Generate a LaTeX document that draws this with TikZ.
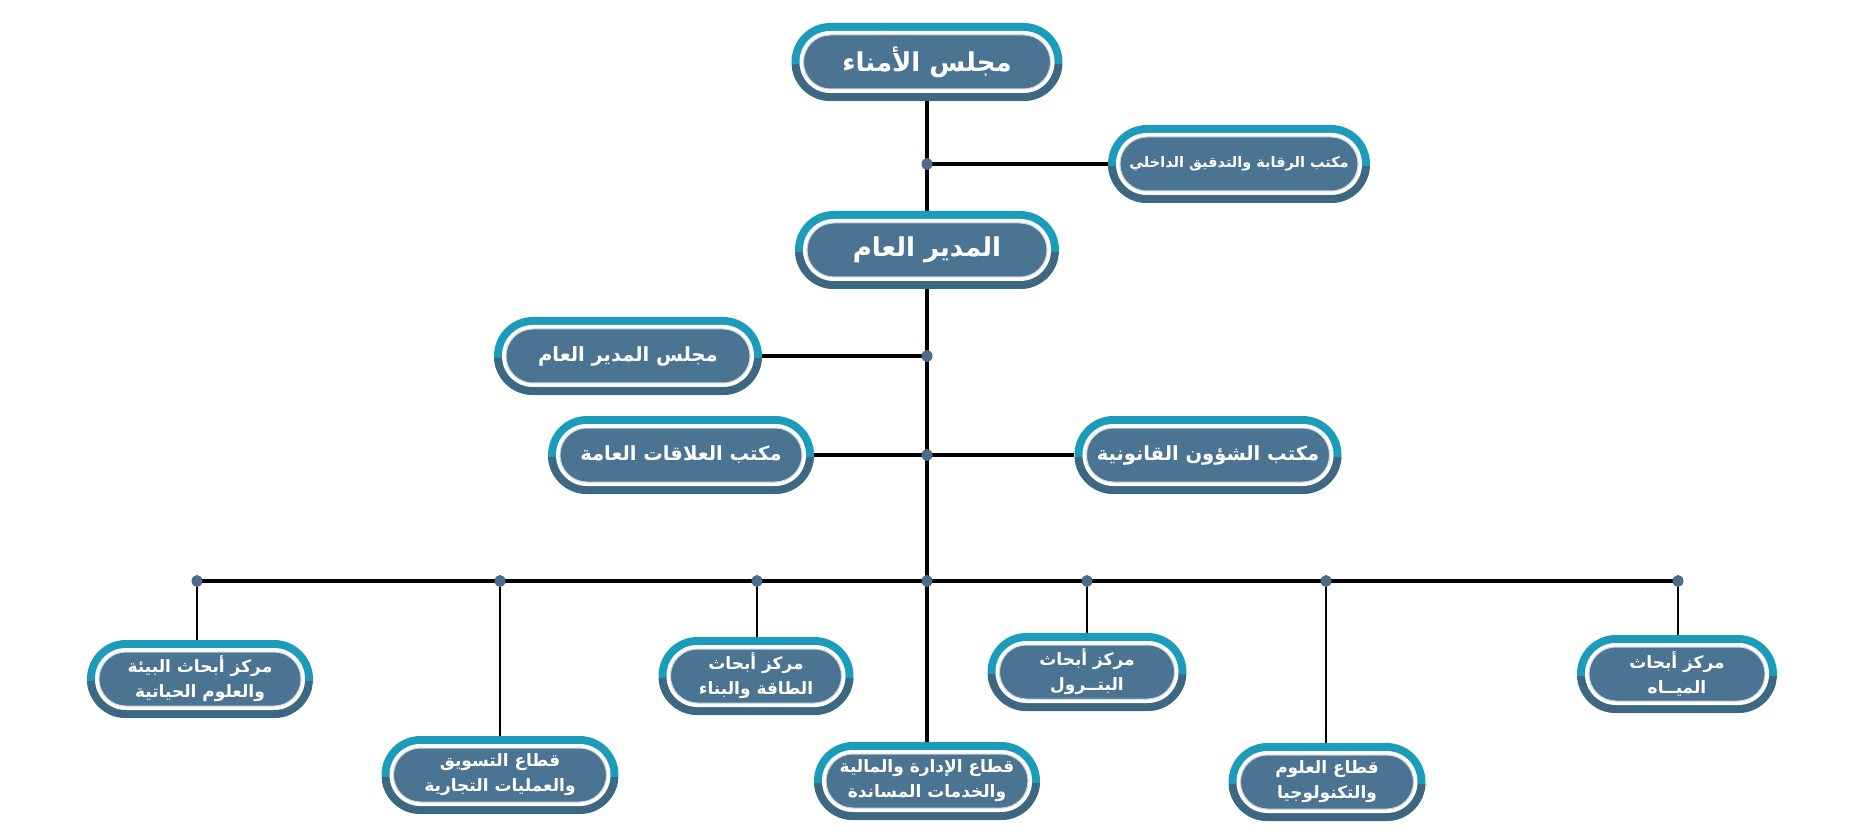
\documentclass[tikz,border=0pt]{standalone}
\usepackage{fontspec}
\usetikzlibrary{shapes.misc}
\TeXXeTstate=1
\newfontfamily\arfont[Script=Arabic]{DejaVu Sans}
\definecolor{tealb}{HTML}{1B9CBA}
\definecolor{darkb}{HTML}{3E6782}
\definecolor{innerb}{HTML}{4A7491}
\definecolor{shadb}{HTML}{C9D4DC}
\definecolor{dotc}{HTML}{4B6D88}
\tikzset{
  orgbox/.style={rounded rectangle, minimum height=78pt, inner sep=0pt, fill=tealb,
    text=white, align=center,
    path picture={
      \fill[darkb] ([yshift=-2pt]path picture bounding box.west) rectangle (path picture bounding box.south east);
      \fill[white, rounded corners=30.9pt] ([shift={(8pt,8pt)}]path picture bounding box.south west) rectangle ([shift={(-8pt,-8pt)}]path picture bounding box.north east);
      \filldraw[fill=innerb, draw=shadb, line width=1pt, rounded corners=26.9pt] ([shift={(12pt,12pt)}]path picture bounding box.south west) rectangle ([shift={(-12pt,-12pt)}]path picture bounding box.north east);
    }},
  bigtxt/.style={font=\arfont\bfseries\fontsize{26}{30}\selectfont},
  midtxt/.style={font=\arfont\bfseries\fontsize{19.5}{26}\selectfont},
  smalltxt/.style={font=\arfont\bfseries\fontsize{14.5}{20}\selectfont},
  lowtxt/.style={font=\arfont\bfseries\fontsize{17}{25}\selectfont},
  link/.style={draw=black, line width=3.4pt},
  droplink/.style={draw=black, line width=2.8pt},
  dotmark/.style={fill=dotc},
}
\begin{document}
\begin{tikzpicture}[x=1pt, y=-1pt]
\useasboundingbox[fill=white] (0,0) rectangle (1875,834);

\coordinate (d1) at (927,164);
\coordinate (d2) at (927,356);
\coordinate (d3) at (927,455);
\coordinate (b1) at (197,581);
\coordinate (b2) at (500,581);
\coordinate (b3) at (757,581);
\coordinate (b4) at (927,581);
\coordinate (b5) at (1087,581);
\coordinate (b6) at (1326,581);
\coordinate (b7) at (1678,581);

\node[orgbox, bigtxt, minimum width=271pt] (n1) at (927,62) {\beginR مجلس الأمناء\endR};
\node[orgbox, smalltxt, minimum width=262pt] (n2) at (1239,164) {\beginR مكتب الرقابة والتدقيق الداخلي\endR};
\node[orgbox, bigtxt, minimum width=264pt] (n3) at (927,250) {\beginR المدير العام\endR};
\node[orgbox, midtxt, minimum width=268pt] (n4) at (628,356) {\beginR مجلس المدير العام\endR};
\node[orgbox, midtxt, minimum width=266pt] (n5) at (681,455) {\beginR مكتب العلاقات العامة\endR};
\node[orgbox, midtxt, minimum width=267pt] (n6) at (1208,455) {\beginR مكتب الشؤون القانونية\endR};
\node[orgbox, lowtxt, minimum width=226pt] (n7) at (200,679) {\beginR مركز أبحاث البيئة\endR\\\beginR والعلوم الحياتية\endR};
\node[orgbox, lowtxt, minimum width=237pt] (n8) at (500,775) {\beginR قطاع التسويق\endR\\\beginR والعمليات التجارية\endR};
\node[orgbox, lowtxt, minimum width=195pt] (n9) at (756,676) {\beginR مركز أبحاث\endR\\\beginR الطاقة والبناء\endR};
\node[orgbox, lowtxt, minimum width=226pt] (n10) at (927,781) {\beginR قطاع الإدارة والمالية\endR\\\beginR والخدمات المساندة\endR};
\node[orgbox, lowtxt, minimum width=199pt] (n11) at (1087,672) {\beginR مركز أبحاث\endR\\\beginR البتــرول\endR};
\node[orgbox, lowtxt, minimum width=197pt] (n12) at (1327,782) {\beginR قطاع العلوم\endR\\\beginR والتكنولوجيا\endR};
\node[orgbox, lowtxt, minimum width=200pt] (n13) at (1677,674) {\beginR مركز أبحاث\endR\\\beginR الميــاه\endR};

\path[link] (n1.south) -- (n3.north);
\path[link] (n3.south) -- (n10.north);
\path[link] (d1) -- (n2.west);
\path[link] (d2) -- (n4.east);
\path[link] (n5.east) -- (n6.west);
\path[link] (b1) -- (b7);
\path[droplink] (b1) -- (b1 |- n7.north);
\path[droplink] (b2) -- (b2 |- n8.north);
\path[droplink] (b3) -- (b3 |- n9.north);
\path[droplink] (b5) -- (b5 |- n11.north);
\path[droplink] (b6) -- (b6 |- n12.north);
\path[droplink] (b7) -- (b7 |- n13.north);

\foreach \p in {d1,d2,d3,b1,b2,b3,b4,b5,b6,b7}
  \fill[dotmark] (\p) ellipse [x radius=5.5pt, y radius=6pt];
\end{tikzpicture}
\end{document}
